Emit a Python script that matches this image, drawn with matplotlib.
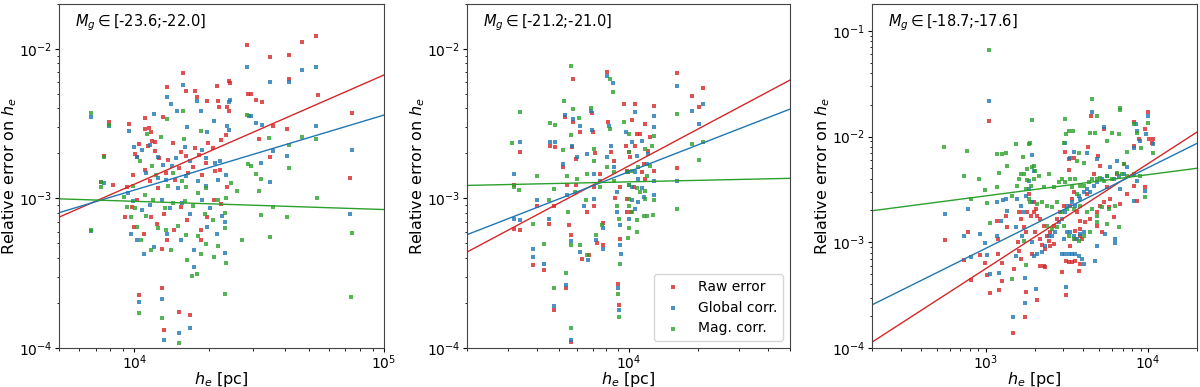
import numpy as np
import matplotlib.pyplot as plt

# -----------------------------
# Data
# each row: log10(h_e [pc]), log10(relative error on h_e)
# -----------------------------

# panel 1 : M_g in [-23.6;-22.0]
raw_1 = np.array([
    [3.879, -2.713], [3.899, -2.491], [3.916, -2.913], [3.866, -2.891], [3.979, -2.502],
    [4.002, -2.702], [4.010, -2.724], [4.042, -2.462], [4.043, -2.536], [4.059, -2.529],
    [4.066, -2.558], [4.072, -2.613], [4.083, -2.624], [4.116, -2.458], [4.132, -2.253],
    [4.196, -2.158], [4.206, -2.280], [4.243, -2.280], [4.252, -2.324], [4.292, -2.347],
    [4.332, -2.247], [4.335, -2.347], [4.339, -2.391], [4.379, -2.213], [4.383, -2.229],
    [4.370, -2.387], [4.379, -2.416], [4.452, -1.973], [4.455, -2.300], [4.468, -2.300],
    [4.486, -2.342], [4.511, -2.353], [4.542, -2.056], [4.618, -2.040], [4.619, -2.198],
    [4.670, -1.951], [4.726, -1.916], [4.734, -2.309], [4.871, -2.431], [4.863, -2.862],
    [4.555, -2.513], [4.610, -2.533], [4.499, -2.602], [4.542, -2.720],
    [4.021, -2.636], [4.055, -2.651], [4.083, -2.684], [4.101, -2.728], [4.137, -2.743],
    [4.155, -2.631], [4.189, -2.688], [4.208, -2.719], [4.243, -2.662], [4.261, -2.707],
    [4.297, -2.631], [4.315, -2.664], [4.349, -2.608], [4.368, -2.573], [3.995, -2.841],
    [4.043, -2.809], [4.062, -2.884], [4.097, -2.929], [4.128, -2.831], [4.163, -2.874],
    [4.181, -2.796], [4.216, -2.832], [4.235, -2.787], [4.270, -2.841], [4.288, -2.764],
    [4.323, -2.818], [4.342, -2.809],
    [3.972, -2.924], [3.962, -3.124], [3.992, -3.058], [4.012, -3.013], [3.999, -3.191],
    [4.039, -3.236], [4.066, -3.124], [4.092, -3.169], [4.119, -3.102], [4.159, -3.213],
    [4.186, -3.058], [4.212, -3.147], [4.266, -3.213], [4.292, -3.124], [4.319, -3.013],
    [4.346, -3.036], [4.372, -2.924], [4.112, -3.336], [4.132, -3.280], [4.266, -3.280],
    [4.018, -3.647], [4.112, -3.602], [4.118, -3.880], [4.178, -3.758], [4.224, -3.782],
])
glob_1 = np.array([
    [3.826, -2.458], [3.826, -3.220], [3.879, -2.898], [3.899, -2.516], [3.979, -2.551],
    [3.999, -2.658], [4.012, -2.724], [4.132, -2.324], [4.195, -2.244], [4.252, -2.347],
    [4.292, -2.558], [4.451, -2.118], [4.542, -2.220], [4.618, -2.220], [4.670, -2.144],
    [4.726, -2.124], [4.726, -2.518], [4.871, -2.673], [4.864, -3.102], [4.379, -2.358],
    [4.383, -2.342], [4.370, -2.513], [4.379, -2.540], [4.458, -2.449], [4.468, -2.449],
    [4.487, -2.496], [4.511, -2.511], [4.554, -2.682], [4.610, -2.713], [4.508, -2.760],
    [4.542, -2.887], [4.363, -3.158], [4.363, -3.364],
    [4.030, -2.676], [4.062, -2.641], [4.096, -2.720], [4.115, -2.773], [4.150, -2.786],
    [4.168, -2.729], [4.203, -2.653], [4.222, -2.751], [4.270, -2.676], [4.288, -2.729],
    [4.323, -2.764], [4.342, -2.751], [4.048, -2.831], [4.096, -2.862], [4.128, -2.876],
    [4.176, -2.929], [4.208, -2.853], [4.256, -2.884], [4.288, -2.919], [4.336, -2.876],
    [4.368, -2.841], [3.976, -2.964], [3.995, -3.018], [4.030, -3.075], [4.062, -3.041],
    [4.110, -3.009], [4.142, -3.062], [4.190, -3.031], [4.222, -3.107], [4.270, -3.009],
    [4.302, -3.062], [4.350, -3.120], [3.986, -3.236], [4.012, -3.280], [4.039, -3.369],
    [4.079, -3.324], [4.132, -3.236], [4.186, -3.280], [4.239, -3.347], [4.292, -3.191],
    [4.332, -3.236], [4.018, -3.691], [4.112, -3.673], [4.118, -3.947], [4.178, -3.902],
    [4.224, -3.869], [4.239, -3.458], [4.172, -2.413], [4.079, -2.436], [4.146, -2.369],
    [4.266, -2.413], [4.319, -2.480], [4.212, -2.524],
])
mag_1 = np.array([
    [3.826, -2.429], [3.826, -3.213], [3.879, -2.724], [3.866, -2.891], [3.899, -2.507],
    [3.866, -2.924], [3.959, -2.991], [3.972, -3.058], [3.986, -3.124], [4.012, -3.191],
    [4.026, -3.280], [4.018, -3.769], [4.112, -3.802], [4.178, -3.969], [4.232, -3.516],
    [4.252, -3.507], [4.362, -3.636], [4.450, -2.440], [4.540, -2.593], [4.670, -2.589],
    [4.728, -2.600], [4.619, -2.640], [4.619, -2.798], [4.455, -2.769], [4.468, -2.780],
    [4.486, -2.836], [4.508, -2.867], [4.500, -2.949], [4.554, -3.060], [4.508, -3.113],
    [4.610, -3.124], [4.542, -3.258], [4.431, -3.276], [4.365, -3.200], [4.366, -3.429],
    [4.866, -3.658], [4.871, -3.233], [4.732, -2.998], [4.412, -2.947], [4.386, -2.898],
    [4.022, -2.752], [4.070, -2.786], [4.088, -2.841], [4.137, -2.919], [4.155, -2.831],
    [4.190, -2.884], [4.208, -2.920], [4.256, -2.964], [4.288, -2.929], [4.336, -3.008],
    [4.368, -2.996], [3.995, -2.919], [4.043, -2.974], [4.075, -3.008], [4.123, -3.063],
    [4.155, -3.031], [4.203, -3.018], [4.235, -3.053], [4.283, -3.107], [4.315, -3.142],
    [4.363, -3.097], [4.003, -3.063], [4.048, -3.119], [4.096, -3.196], [4.128, -3.208],
    [4.176, -3.186], [4.208, -3.241], [4.256, -3.253], [4.288, -3.307], [4.336, -3.319],
    [4.066, -3.347], [4.146, -3.347], [4.212, -3.413], [4.266, -3.369], [4.319, -3.391],
    [4.196, -2.413], [4.132, -2.469], [4.199, -2.602], [4.106, -2.591], [4.052, -2.569],
    [4.266, -2.547],
])

# panel 2 : M_g in [-21.2;-21.0]
raw_2 = np.array([
    [3.504, -2.913], [3.504, -3.207], [3.529, -2.687], [3.529, -3.209], [3.588, -3.442],
    [3.604, -3.051], [3.634, -3.480], [3.657, -3.173], [3.677, -3.051], [3.677, -3.747],
    [3.660, -2.651], [3.680, -2.653], [3.716, -2.791], [3.723, -2.456], [3.728, -3.602],
    [3.735, -2.913], [3.742, -3.180], [3.749, -3.247], [3.759, -2.198], [3.761, -2.491],
    [3.756, -2.658], [3.771, -2.736], [3.771, -2.913], [3.749, -3.962], [3.792, -2.558],
    [3.800, -3.402], [3.818, -3.091], [3.830, -3.380], [3.843, -2.429], [3.846, -2.558],
    [3.853, -2.696], [3.850, -3.047], [3.862, -3.296], [3.889, -3.162], [3.890, -3.313],
    [3.908, -2.153], [3.912, -2.491], [3.925, -2.691], [3.941, -2.998], [3.963, -3.269],
    [3.954, -3.569], [3.958, -3.713], [3.980, -2.371], [3.987, -2.647], [3.999, -2.824],
    [4.009, -3.091], [4.029, -2.369], [4.108, -2.380], [4.072, -2.502], [4.014, -2.473],
    [4.050, -2.569], [4.036, -2.569], [4.094, -2.591], [4.029, -2.647], [4.000, -2.691],
    [4.065, -2.769], [4.108, -2.813], [3.993, -2.813], [4.058, -2.824], [4.072, -2.869],
    [3.993, -3.091], [3.993, -3.002], [4.209, -2.162], [4.209, -2.796], [4.274, -2.313],
    [4.305, -2.389], [4.321, -2.258], [3.935, -2.747], [3.877, -2.836], [3.849, -2.924],
    [3.964, -2.924], [4.022, -2.924], [4.086, -2.680], [4.007, -2.724],
])
glob_2 = np.array([
    [3.504, -2.836], [3.504, -3.136], [3.529, -2.620], [3.529, -3.142], [3.588, -3.336],
    [3.588, -3.391], [3.634, -3.436], [3.604, -3.007], [3.657, -3.136], [3.677, -3.718],
    [3.662, -2.620], [3.680, -2.622], [3.716, -2.769], [3.723, -2.440], [3.728, -3.580],
    [3.735, -2.976], [3.749, -3.287], [3.756, -2.647], [3.761, -2.469], [3.778, -2.724],
    [3.749, -3.947], [3.790, -2.518], [3.792, -3.358], [3.807, -3.047], [3.824, -3.413],
    [3.839, -2.416], [3.843, -2.540], [3.850, -3.002], [3.857, -3.280], [3.890, -3.198],
    [3.890, -3.336], [3.908, -2.180], [3.932, -2.229], [3.915, -2.513], [3.922, -2.647],
    [3.951, -2.958], [3.950, -3.091], [3.963, -3.180], [3.965, -3.313], [3.954, -3.602],
    [3.958, -3.747], [3.968, -3.369], [3.987, -2.558], [4.001, -2.913], [4.029, -2.420],
    [4.108, -2.447], [4.058, -2.613], [4.108, -2.524], [4.086, -2.702], [4.014, -2.624],
    [4.036, -2.713], [4.079, -2.769], [4.029, -2.824], [4.043, -2.869], [4.108, -2.880],
    [4.014, -2.924], [4.058, -2.931], [4.065, -2.991], [4.108, -2.980], [4.014, -3.013],
    [4.043, -3.024], [4.000, -3.136], [4.029, -3.069], [4.209, -2.251], [4.209, -2.884],
    [4.274, -2.418], [4.305, -2.500], [4.321, -2.371], [3.935, -2.791], [3.877, -2.880],
    [3.906, -2.724], [3.849, -2.836], [3.820, -2.702],
])
mag_2 = np.array([
    [3.497, -2.631], [3.504, -2.920], [3.529, -2.424], [3.526, -2.942], [3.588, -3.169],
    [3.604, -2.847], [3.634, -3.302], [3.657, -3.009], [3.679, -2.936], [3.677, -3.602],
    [3.662, -2.496], [3.680, -2.509], [3.715, -2.673], [3.720, -2.351], [3.728, -3.496],
    [3.732, -2.847], [3.738, -3.091], [3.749, -3.313], [3.752, -2.113], [3.761, -2.402],
    [3.749, -2.576], [3.778, -2.869], [3.767, -2.958], [3.749, -3.869], [3.787, -2.464],
    [3.792, -3.313], [3.814, -3.009], [3.821, -3.380], [3.836, -2.396], [3.850, -2.669],
    [3.857, -3.247], [3.886, -3.180], [3.919, -2.198], [3.932, -2.291], [3.919, -2.536],
    [3.937, -2.824], [3.948, -3.047], [3.957, -3.136], [3.963, -3.436], [3.954, -3.642],
    [3.958, -3.793], [3.980, -2.491], [3.994, -2.824], [4.001, -3.002], [4.000, -2.569],
    [4.000, -2.691], [4.072, -2.669], [4.101, -2.647], [4.108, -2.580], [4.094, -2.780],
    [4.043, -2.791], [4.014, -2.813], [4.079, -2.847], [4.000, -2.913], [4.036, -2.931],
    [4.050, -2.958], [4.072, -2.947], [4.108, -3.013], [4.072, -3.002], [4.000, -3.047],
    [4.014, -3.091], [4.065, -3.120], [4.079, -3.118], [4.104, -3.109], [4.036, -3.147],
    [4.000, -3.196], [4.036, -3.224], [3.997, -3.264], [4.209, -2.438], [4.209, -3.071],
    [4.274, -2.638], [4.305, -2.740], [4.321, -2.620], [3.906, -2.791], [3.877, -2.924],
    [3.935, -2.880], [3.849, -2.747], [3.820, -2.836],
])

# panel 3 : M_g in [-18.7;-17.6]
raw_3 = np.array([
    [2.750, -2.978], [2.865, -3.167], [2.889, -2.906], [2.908, -3.352], [2.963, -3.119],
    [2.996, -3.195], [3.010, -3.308], [3.018, -1.849], [3.027, -3.481], [3.072, -2.795],
    [3.078, -3.110], [3.103, -3.198], [3.103, -3.362], [3.082, -3.456], [3.078, -2.968],
    [3.133, -2.858], [3.123, -2.748], [3.205, -2.717], [3.215, -2.780], [3.236, -2.858],
    [3.256, -2.717], [3.267, -2.544], [3.277, -2.748], [3.297, -2.623], [3.308, -2.685],
    [3.174, -3.251], [3.199, -3.000], [3.205, -3.079], [3.215, -3.157], [3.246, -2.906],
    [3.246, -3.472], [3.242, -3.707], [3.168, -3.855],
    [3.285, -3.110], [3.295, -2.717], [3.316, -2.748], [3.336, -2.780], [3.357, -2.843],
    [3.306, -2.906], [3.336, -2.968], [3.377, -2.937], [3.347, -3.025], [3.367, -3.063],
    [3.398, -3.031], [3.418, -3.016], [3.388, -2.984], [3.357, -3.220], [3.367, -3.236],
    [3.336, -3.220], [3.470, -3.283], [3.496, -3.179], [3.511, -3.189], [3.531, -3.182],
    [3.552, -3.173], [3.572, -3.267], [3.583, -3.204], [3.521, -3.031], [3.552, -2.968],
    [3.583, -2.937], [3.593, -2.968], [3.552, -2.890], [3.583, -2.874], [3.613, -2.811],
    [3.644, -2.780], [3.685, -2.717], [3.706, -2.654], [3.726, -2.623], [3.757, -2.670],
    [3.767, -2.591], [3.685, -2.843], [3.716, -2.906], [3.583, -2.795], [3.562, -2.717],
    [3.521, -2.654], [3.531, -2.591], [3.542, -2.528], [3.480, -2.654], [3.459, -2.717],
    [3.439, -2.780], [3.418, -2.843], [3.398, -2.906], [3.316, -3.550], [3.496, -3.503],
    [3.999, -1.767], [3.983, -1.931], [4.003, -2.025], [4.028, -2.019], [3.911, -1.862],
    [3.942, -2.025], [3.911, -2.088], [3.648, -1.805], [3.726, -1.924], [3.691, -2.182],
    [3.706, -2.277], [3.628, -2.097], [3.488, -2.141], [3.511, -2.214], [3.542, -2.207],
    [3.511, -2.318], [3.983, -2.481], [3.808, -2.355], [3.911, -2.465], [3.870, -2.544],
    [3.829, -2.638], [3.931, -2.607], [3.788, -2.764], [3.747, -2.481], [3.665, -2.355],
    [3.624, -2.544], [3.849, -2.261], [4.024, -2.056],
])
glob_3 = np.array([
    [2.750, -2.736], [2.869, -2.943], [2.889, -2.689], [2.908, -3.141], [2.963, -2.924],
    [2.994, -3.009], [3.010, -3.119], [3.018, -1.663], [3.027, -3.299], [3.070, -2.623],
    [3.092, -2.795], [3.107, -2.604], [3.123, -2.588], [3.082, -3.289], [3.072, -2.937],
    [3.133, -2.701], [3.195, -2.591], [3.215, -2.654], [3.230, -2.717], [3.246, -2.560],
    [3.267, -2.497], [3.267, -2.418], [3.287, -2.176], [3.297, -2.324], [3.287, -2.616],
    [3.189, -2.858], [3.226, -2.937], [3.242, -3.572], [3.168, -3.707], [3.242, -3.340],
    [3.185, -3.126],
    [3.285, -3.000], [3.295, -3.126], [3.316, -3.110], [3.347, -3.094], [3.367, -3.031],
    [3.388, -2.937], [3.408, -2.937], [3.429, -2.906], [3.449, -2.811], [3.470, -2.780],
    [3.490, -2.717], [3.501, -2.654], [3.531, -2.623], [3.552, -2.654], [3.572, -2.560],
    [3.583, -2.591], [3.603, -2.528], [3.624, -2.497], [3.644, -2.528], [3.665, -2.465],
    [3.685, -2.434], [3.716, -2.402], [3.747, -2.371], [3.788, -2.402], [3.818, -2.371],
    [3.829, -2.497], [3.480, -2.968], [3.501, -2.906], [3.521, -2.906], [3.542, -2.937],
    [3.562, -2.968], [3.583, -2.921], [3.603, -2.906], [3.470, -3.110], [3.490, -3.110],
    [3.511, -3.110], [3.531, -3.110], [3.552, -3.110], [3.572, -3.126], [3.593, -3.157],
    [3.603, -3.204], [3.675, -3.173], [3.685, -3.031], [3.736, -2.921], [3.798, -2.968],
    [3.798, -3.006], [3.310, -3.440], [3.496, -3.424],
    [3.656, -1.767], [3.999, -1.805], [3.985, -1.972], [4.028, -2.072], [3.927, -1.884],
    [3.931, -1.946], [3.952, -2.041], [3.911, -2.104], [3.849, -2.355], [3.931, -2.418],
    [3.726, -1.906], [3.685, -2.214], [3.624, -2.151], [3.490, -2.056], [3.542, -2.145],
    [3.517, -2.198], [3.983, -2.512], [3.808, -2.229], [3.870, -2.292], [3.767, -2.292],
    [3.911, -2.607],
])
mag_3 = np.array([
    [2.746, -2.094], [2.869, -2.377], [2.887, -2.132], [2.908, -2.591], [2.959, -2.402],
    [2.996, -2.506], [3.010, -2.629], [3.018, -1.176], [3.025, -2.818], [3.068, -2.160],
    [3.072, -2.481], [3.082, -2.349], [3.103, -2.160], [3.123, -2.157], [3.133, -2.277],
    [3.185, -2.072], [3.195, -2.465], [3.205, -2.402], [3.215, -2.355], [3.230, -2.192],
    [3.236, -2.355], [3.252, -2.308], [3.246, -2.497], [3.256, -2.409], [3.267, -2.072],
    [3.287, -1.843], [3.287, -2.292], [3.277, -2.465], [3.267, -2.591], [3.236, -2.984],
    [3.246, -3.211], [3.164, -3.346], [3.164, -2.560],
    [3.275, -2.056], [3.295, -2.277], [3.306, -2.324], [3.295, -2.402], [3.326, -2.371],
    [3.357, -2.481], [3.388, -2.355], [3.418, -2.481], [3.449, -2.434], [3.470, -2.402],
    [3.490, -2.434], [3.521, -2.402], [3.531, -2.481], [3.552, -2.402], [3.562, -2.544],
    [3.583, -2.465], [3.603, -2.465], [3.634, -2.434], [3.654, -2.402], [3.685, -2.402],
    [3.706, -2.387], [3.726, -2.418], [3.747, -2.371], [3.777, -2.402], [3.808, -2.340],
    [3.839, -2.355], [3.870, -2.371], [3.911, -2.355], [3.952, -2.371], [3.275, -2.623],
    [3.316, -2.638], [3.347, -2.623], [3.377, -2.654], [3.408, -2.670], [3.439, -2.623],
    [3.470, -2.717], [3.501, -2.685], [3.542, -2.685], [3.583, -2.654], [3.624, -2.717],
    [3.654, -2.685], [3.685, -2.748], [3.716, -2.670], [3.757, -2.685], [3.798, -2.654],
    [3.377, -2.843], [3.408, -2.874], [3.439, -2.858], [3.480, -2.843], [3.511, -2.937],
    [3.542, -2.968], [3.572, -2.984], [3.603, -2.937], [3.644, -2.906], [3.685, -2.811],
    [3.747, -2.827], [3.818, -2.858], [3.983, -2.575],
    [3.654, -1.641], [3.829, -1.726], [3.829, -1.748], [3.999, -1.874], [4.028, -2.151],
    [3.915, -1.884], [3.931, -1.962], [3.958, -2.104], [3.870, -2.141], [3.849, -2.261],
    [3.777, -1.962], [3.747, -2.041], [3.675, -1.962], [3.644, -1.962], [3.490, -1.836],
    [3.494, -1.972], [3.511, -1.946], [3.537, -1.950], [3.480, -2.056], [3.562, -2.229],
    [3.572, -2.151], [3.603, -2.245], [3.818, -1.978], [3.685, -1.805],
])

# power-law fits: (log10 h_e pivot, log10 err at pivot, slope)
fit_raw = [(4.0, -2.905, 0.731), (4.0, -2.783, 0.823), (3.0, -3.250, 0.994)]
fit_glob = [(4.0, -2.944, 0.502), (4.0, -2.822, 0.601), (3.0, -3.058, 0.764)]
fit_mag = [(4.0, -3.019, -0.055), (4.0, -2.889, 0.034), (3.0, -2.561, 0.201)]

mag_bins = ['[-23.6;-22.0]', '[-21.2;-21.0]', '[-18.7;-17.6]']
xlims = [(5e3, 1e5), (2e3, 5e4), (2e2, 2e4)]
ylims = [(1e-4, 2e-2), (1e-4, 2e-2), (1e-4, 0.18)]

raw = [raw_1, raw_2, raw_3]
glob = [glob_1, glob_2, glob_3]
mag = [mag_1, mag_2, mag_3]

# -----------------------------
# Visualization
# -----------------------------

fig = plt.figure(figsize=(12, 3.87), dpi=100)
lefts = [0.0492, 0.3892, 0.7267]
widths = [0.2708, 0.2692, 0.2708]

series = [
    ("Raw error", raw, fit_raw, "tab:red"),
    ("Global corr.", glob, fit_glob, "tab:blue"),
    ("Mag. corr.", mag, fit_mag, "tab:green"),
]

for i in range(3):
    ax = fig.add_axes([lefts[i], 0.1008, widths[i], 0.889])
    xs = np.logspace(np.log10(xlims[i][0]), np.log10(xlims[i][1]), 50)

    for label, data, fits, color in series:
        pts = data[i]
        ax.scatter(10 ** pts[:, 0], 10 ** pts[:, 1], s=7, marker="s",
                   color=color, alpha=0.8, linewidths=0, label=label)
    for label, data, fits, color in series:
        x0, y0, slope = fits[i]
        ax.plot(xs, 10 ** (y0 + slope * (np.log10(xs) - x0)), color=color, lw=1.0)

    ax.set_xscale("log")
    ax.set_yscale("log")
    ax.set_xlim(*xlims[i])
    ax.set_ylim(*ylims[i])
    ax.tick_params(which="major", length=3)
    ax.tick_params(which="minor", length=1.8)
    ax.tick_params(axis="x", labelsize=10, pad=1)
    ax.tick_params(axis="y", labelsize=10, pad=2)
    for sp in ax.spines.values():
        sp.set_color("#444444")
    ax.set_xlabel(r"$h_e$ [pc]", fontsize=11.5, labelpad=-1.5)
    ax.set_ylabel(r"Relative error on $h_e$", fontsize=11.5, labelpad=0)
    ax.text(0.05, 0.975, r"$M_g\in$" + mag_bins[i], transform=ax.transAxes,
            ha="left", va="top", fontsize=10.5)

    if i == 1:
        ax.legend(loc="lower right", fontsize=10, markerscale=1.0)

fig.savefig("out.png", dpi=100)
